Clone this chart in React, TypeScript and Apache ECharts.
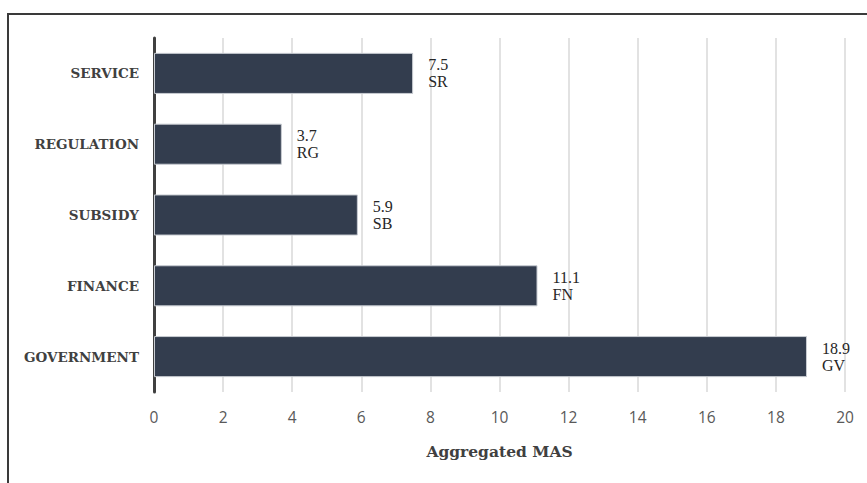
import React, { useEffect, useRef } from "react";
import * as echarts from "echarts";

const categories = ["SERVICE", "REGULATION", "SUBSIDY", "FINANCE", "GOVERNMENT"];
const codes = ["SR", "RG", "SB", "FN", "GV"];
const values = [7.5, 3.7, 5.9, 11.1, 18.9];
const axisName = "Aggregated MAS";

export default function App() {
  const ref = useRef<HTMLDivElement>(null);
  useEffect(() => {
    const chart = echarts.init(ref.current!, null, { renderer: "svg" });
    chart.setOption({
      animation: false,
      backgroundColor: "#ffffff",
      graphic: [
        {
          type: "rect",
          shape: { x: 8, y: 14, width: 900, height: 520 },
          style: { fill: "none", stroke: "#3a3a3a", lineWidth: 2 },
          silent: true,
        },
      ],
      grid: { left: 154, right: 22, top: 38, bottom: 91, containLabel: false },
      xAxis: {
        type: "value",
        min: 0,
        max: 20,
        interval: 2,
        name: axisName,
        nameLocation: "middle",
        nameGap: 51,
        nameTextStyle: {
          fontFamily: "DejaVu Serif",
          fontWeight: "bold",
          fontSize: 15.5,
          color: "#404040",
        },
        axisLine: { show: false },
        axisTick: { show: false },
        axisLabel: {
          fontFamily: "Open Sans",
          fontSize: 15.5,
          color: "#595959",
          margin: 17,
        },
        splitLine: { show: true, lineStyle: { color: "#d9d9d9", width: 1.5 } },
      },
      yAxis: {
        type: "category",
        data: categories,
        inverse: true,
        axisLine: { show: true, lineStyle: { color: "#404040", width: 3 } },
        axisTick: { show: false },
        axisLabel: {
          fontFamily: "DejaVu Serif",
          fontWeight: "bold",
          fontSize: 13.5,
          color: "#404040",
          margin: 15,
        },
      },
      series: [
        {
          type: "bar",
          data: values,
          barCategoryGap: "42%",
          itemStyle: { color: "#333d4e", borderColor: "#c8ccd2", borderWidth: 1 },
          label: {
            show: true,
            position: "right",
            distance: 15,
            formatter: (p: any) => `${p.value}\n${codes[p.dataIndex]}`,
            fontFamily: "Liberation Serif",
            fontSize: 16,
            lineHeight: 17,
            color: "#262626",
            align: "left",
          },
        },
      ],
    });
    return () => chart.dispose();
  }, []);
  return (
    <div
      ref={ref}
      style={{ position: "absolute", left: 0, top: 0, width: 867, height: 483 }}
    />
  );
}
